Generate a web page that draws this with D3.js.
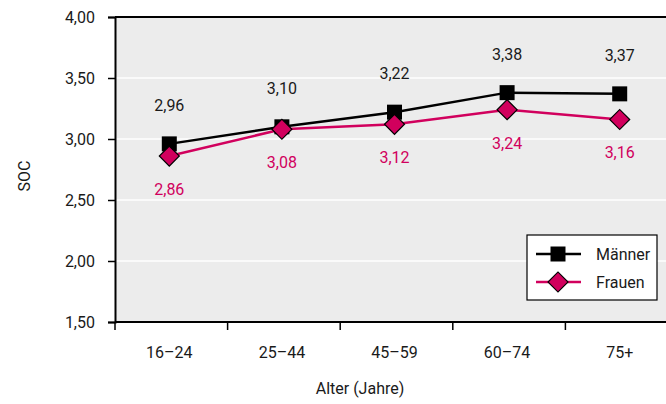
<!DOCTYPE html>
<html><head><meta charset="utf-8">
<script src="https://cdn.jsdelivr.net/npm/d3@7"></script>
<style>body{margin:0;background:#fff}svg{display:block}text{font-family:Roboto,"Liberation Sans",sans-serif;fill:#1a1a1a}</style>
</head><body><svg id="c" width="666" height="404"></svg>
<script>
const categories = ["16–24","25–44","45–59","60–74","75+"];
const maenner = [2.96,3.10,3.22,3.38,3.37];
const frauen = [2.86,3.08,3.12,3.24,3.16];
const yTicks = [1.5,2.0,2.5,3.0,3.5,4.0];
const seriesNames = ["Männer","Frauen"];

const svg = d3.select("#c");
const L=115, R=677, T=17, B=322;
const x = d3.scaleBand().domain(categories).range([113,676]);
const y = d3.scaleLinear().domain([1.5,4.0]).range([B,T]);
const fmt = v => d3.format(".2f")(v).replace(".",",");
const magenta = "#d1005d";

svg.append("rect").attr("x",L).attr("y",T).attr("width",R-L).attr("height",B-T).attr("fill","#ececec");
svg.selectAll("line.grid").data(yTicks.filter(t=>t>1.5&&t<4)).join("line")
  .attr("x1",L).attr("x2",R).attr("y1",d=>y(d)).attr("y2",d=>y(d))
  .attr("stroke","#fff").attr("stroke-width",1.5);
// frame
svg.append("line").attr("x1",L).attr("x2",R).attr("y1",T).attr("y2",T).attr("stroke","#000").attr("stroke-width",2);

const yAxis = svg.append("g").attr("transform",`translate(${L},0)`)
  .call(d3.axisLeft(y).tickValues(yTicks).tickFormat(fmt).tickSize(7).tickPadding(13));
yAxis.select(".domain").attr("stroke","#000").attr("stroke-width",2);
yAxis.selectAll(".tick line").attr("stroke","#000").attr("stroke-width",1.5);
yAxis.selectAll("text").style("font-size","16px").attr("fill","#1a1a1a");

const xAxis = svg.append("g").attr("transform",`translate(0,${B})`);
xAxis.append("line").attr("x1",L).attr("x2",R).attr("stroke","#000").attr("stroke-width",2);
xAxis.selectAll("line.t").data(categories).join("line")
  .attr("x1",d=>x(d)+2).attr("x2",d=>x(d)+2).attr("y1",0).attr("y2",8)
  .attr("stroke","#000").attr("stroke-width",1.5);
xAxis.selectAll("text").data(categories).join("text")
  .attr("x",d=>x(d)+x.bandwidth()/2).attr("y",36).attr("text-anchor","middle")
  .style("font-size","16px").text(d=>d);

svg.append("text").attr("x",360).attr("y",394).attr("text-anchor","middle").style("font-size","16px").text("Alter (Jahre)");
svg.append("text").attr("transform","translate(30,176) rotate(-90)").attr("text-anchor","middle").style("font-size","16px").text("SOC");

const cx = c => x(c)+x.bandwidth()/2;
const line = d3.line().x((d,i)=>cx(categories[i])).y(d=>y(d));

svg.append("path").datum(maenner).attr("d",line).attr("fill","none").attr("stroke","#000").attr("stroke-width",2.5);
svg.append("path").datum(frauen).attr("d",line).attr("fill","none").attr("stroke",magenta).attr("stroke-width",2.5);

const sq = d3.symbol().type(d3.symbolSquare).size(225);
const dia = d3.symbol().type(d3.symbolSquare).size(200);

svg.selectAll("path.m").data(maenner).join("path")
  .attr("d",sq).attr("transform",(d,i)=>`translate(${cx(categories[i])},${y(d)})`)
  .attr("fill","#000");
svg.selectAll("path.f").data(frauen).join("path")
  .attr("d",dia).attr("transform",(d,i)=>`translate(${cx(categories[i])},${y(d)}) rotate(45)`)
  .attr("fill",magenta).attr("stroke","#000").attr("stroke-width",1.2);

svg.selectAll("text.ml").data(maenner).join("text")
  .attr("x",(d,i)=>cx(categories[i])).attr("y",d=>y(d)-33).attr("text-anchor","middle")
  .style("font-size","16px").attr("fill","#1a1a1a").text(fmt);
svg.selectAll("text.fl").data(frauen).join("text")
  .attr("x",(d,i)=>cx(categories[i])).attr("y",d=>y(d)+39).attr("text-anchor","middle")
  .style("font-size","16px").style("fill",magenta).text(fmt);

// legend
const lg = svg.append("g").attr("transform","translate(527,235)");
lg.append("rect").attr("width",130).attr("height",65).attr("fill","#fff").attr("stroke","#000").attr("stroke-width",1.2);
const items = [{n:seriesNames[0],c:"#000",s:sq,r:0},{n:seriesNames[1],c:magenta,s:dia,r:45}];
items.forEach((it,i)=>{
  const gy = 19+i*28;
  lg.append("line").attr("x1",9).attr("x2",54).attr("y1",gy).attr("y2",gy).attr("stroke",it.c).attr("stroke-width",2.5);
  lg.append("path").attr("d",it.s).attr("transform",`translate(31,${gy}) rotate(${it.r})`)
    .attr("fill",it.c).attr("stroke",i?"#000":"none").attr("stroke-width",1.2);
  lg.append("text").attr("x",69).attr("y",gy+6).style("font-size","16px").text(it.n);
});
</script></body></html>
